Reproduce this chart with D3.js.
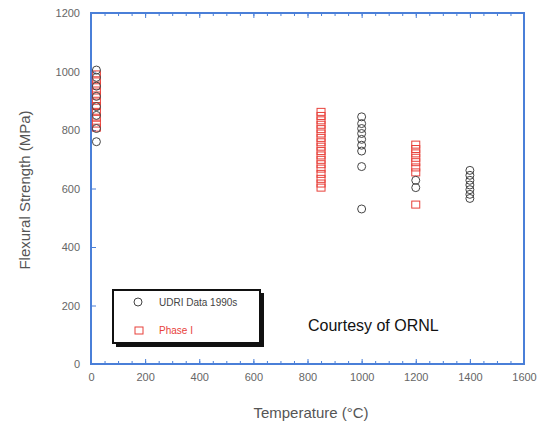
<!DOCTYPE html>
<html>
<head>
<meta charset="utf-8">
<script src="https://cdn.jsdelivr.net/npm/d3@7"></script>
<style>
  body { margin: 0; background: #fff; }
  svg { font-family: "Liberation Sans", Arial, sans-serif; }
</style>
</head>
<body>
<svg id="chart" width="549" height="432"></svg>
<script>
// values
const udriTemps = [20, 20, 20, 20, 20, 20, 20, 20,
  1000, 1000, 1000, 1000, 1000, 1000, 1000, 1000, 1000,
  1200, 1200,
  1400, 1400, 1400, 1400, 1400, 1400, 1400];
const udriStrength = [1005, 980, 950, 915, 880, 850, 805, 760,
  845, 822, 805, 788, 768, 748, 728, 675, 530,
  628, 603,
  662, 645, 628, 612, 596, 580, 566];

const phaseTemps = [20, 20, 20, 20, 20, 20, 20, 20, 20, 20, 20,
  850, 850, 850, 850, 850, 850, 850, 850, 850, 850, 850, 850, 850, 850, 850, 850, 850, 850,
  1200, 1200, 1200, 1200, 1200, 1200, 1200, 1200];
const phaseStrength = [990, 970, 952, 935, 918, 900, 882, 862, 842, 822, 808,
  862, 848, 833, 818, 803, 788, 773, 758, 743, 728, 713, 698, 683, 668, 650, 633, 617, 603,
  750, 735, 720, 705, 690, 672, 655, 545];

const xTicks = [0, 200, 400, 600, 800, 1000, 1200, 1400, 1600];
const yTicks = [0, 200, 400, 600, 800, 1000, 1200];

const svg = d3.select('#chart');
const plotLeft = 91, plotRight = 524, plotTop = 13, plotBottom = 364;
const axisColor = '#4a7fd8';

let x = d3.scaleLinear().domain([0, 1600]).range([plotLeft, plotRight]);
let y = d3.scaleLinear().domain([0, 1200]).range([plotBottom, plotTop]);

// minor ticks on bottom and top
const minor = d3.range(0, 1601, 50);

function styleAxis(g) {
  g.select('.domain').remove();
  g.selectAll('line').attr('stroke', axisColor).attr('stroke-width', 1);
  g.selectAll('text').attr('fill', '#666').attr('font-size', 11);
}

svg.append('g').attr('transform', `translate(0,${plotBottom})`)
  .call(d3.axisBottom(x).tickValues(minor).tickFormat('').tickSizeInner(-3).tickSizeOuter(0))
  .call(styleAxis);
svg.append('g').attr('transform', `translate(0,${plotBottom})`)
  .call(d3.axisBottom(x).tickValues(xTicks).tickFormat(d3.format('d')).tickSizeInner(-5).tickSizeOuter(0).tickPadding(9))
  .call(styleAxis);
svg.append('g').attr('transform', `translate(0,${plotTop})`)
  .call(d3.axisTop(x).tickValues(minor).tickFormat('').tickSizeInner(-3).tickSizeOuter(0))
  .call(styleAxis);
svg.append('g').attr('transform', `translate(0,${plotTop})`)
  .call(d3.axisTop(x).tickValues(xTicks).tickFormat('').tickSizeInner(-5).tickSizeOuter(0))
  .call(styleAxis);
svg.append('g').attr('transform', `translate(${plotLeft},0)`)
  .call(d3.axisLeft(y).tickValues(yTicks).tickFormat(d3.format('d')).tickSizeInner(-5).tickSizeOuter(0).tickPadding(11))
  .call(styleAxis);

// frame
svg.append('rect')
  .attr('x', plotLeft).attr('y', plotTop)
  .attr('width', plotRight - plotLeft).attr('height', plotBottom - plotTop)
  .attr('fill', 'none').attr('stroke', axisColor).attr('stroke-width', 2);

// points
svg.append('g').selectAll('rect')
  .data(phaseTemps.map((t, i) => [t, phaseStrength[i]]))
  .join('rect')
  .attr('x', d => x(d[0]) - 4).attr('y', d => y(d[1]) - 3.5)
  .attr('width', 8).attr('height', 7)
  .attr('fill', 'none').attr('stroke', '#e8413a').attr('stroke-width', 1);

svg.append('g').selectAll('circle')
  .data(udriTemps.map((t, i) => [t, udriStrength[i]]))
  .join('circle')
  .attr('cx', d => x(d[0])).attr('cy', d => y(d[1])).attr('r', 4)
  .attr('fill', 'none').attr('stroke', '#444').attr('stroke-width', 1);

// axis titles
svg.append('text')
  .attr('x', 311).attr('y', 418)
  .attr('text-anchor', 'middle').attr('font-size', 15).attr('fill', '#555')
  .text('Temperature (°C)');
svg.append('text')
  .attr('transform', 'translate(30,190) rotate(-90)')
  .attr('text-anchor', 'middle').attr('font-size', 15).attr('fill', '#555')
  .text('Flexural Strength (MPa)');

// legend
let legend = svg.append('g');
legend.append('rect').attr('x', 116).attr('y', 293).attr('width', 148).attr('height', 54).attr('fill', '#111');
legend.append('rect').attr('x', 113).attr('y', 290).attr('width', 147).attr('height', 53)
  .attr('fill', '#fff').attr('stroke', '#111').attr('stroke-width', 2);
legend.append('circle').attr('cx', 138).attr('cy', 302).attr('r', 4)
  .attr('fill', 'none').attr('stroke', '#444');
legend.append('text').attr('x', 159).attr('y', 306).attr('font-size', 10).attr('fill', '#444')
  .text('UDRI Data 1990s');
legend.append('rect').attr('x', 135).attr('y', 327).attr('width', 8).attr('height', 7)
  .attr('fill', 'none').attr('stroke', '#e8413a');
legend.append('text').attr('x', 159).attr('y', 334).attr('font-size', 10).attr('fill', '#e8413a')
  .text('Phase I');

svg.append('text')
  .attr('x', 308).attr('y', 331).attr('font-size', 16).attr('fill', '#111')
  .text('Courtesy of ORNL');
</script>
</body>
</html>
